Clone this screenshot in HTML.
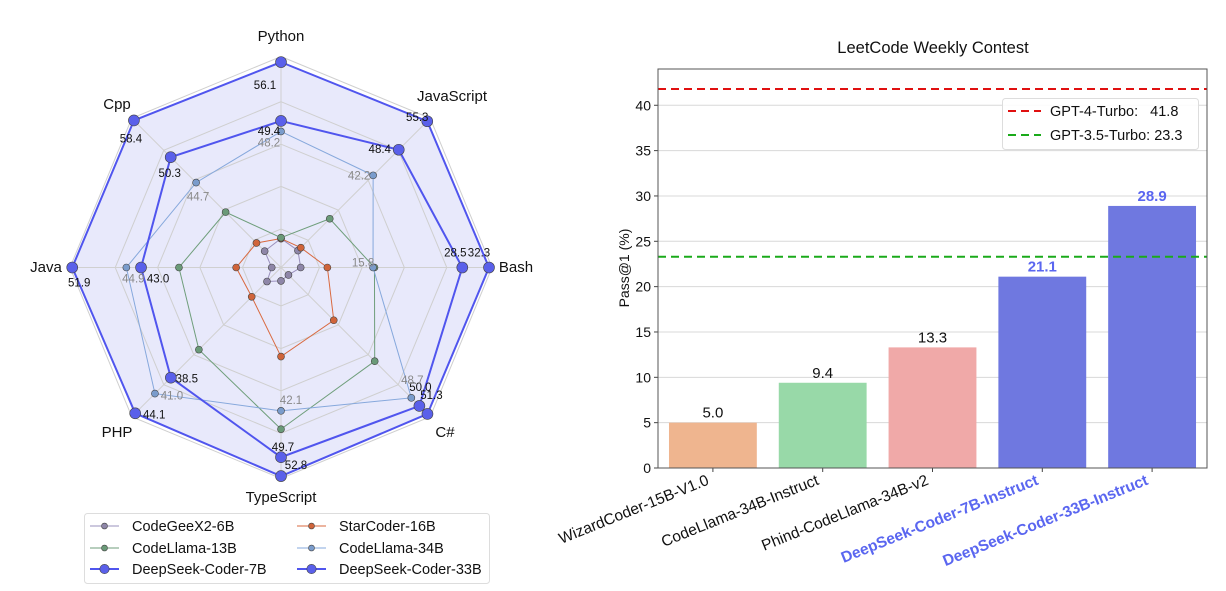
<!DOCTYPE html>
<html><head><meta charset="utf-8"><style>
body{margin:0;background:#fff;width:1226px;height:591px;overflow:hidden;font-family:"Liberation Sans","DejaVu Sans",sans-serif}
svg{position:absolute;left:0;top:0}
</style></head><body>
<svg id="chart" width="1226" height="591" viewBox="0 0 1226 591" font-family="Liberation Sans, DejaVu Sans, sans-serif">
<g id="radar"></g>
<g id="bars"></g>
</svg>
<script>
// ---------- Radar data ----------
const radarAxes = ["Python","JavaScript","Bash","C#","TypeScript","PHP","Java","Cpp"];
const axisLo = [32.7,19.9,2.7,27.7,18.6,21.2,24.9,26.0];
const axisHi = [56.4,55.5,32.3,51.4,52.7,44.3,51.8,58.4];
const seriesNames = ["CodeGeeX2-6B","StarCoder-16B","CodeLlama-13B","CodeLlama-34B","DeepSeek-Coder-7B","DeepSeek-Coder-33B"];
const codegeexVals = [36.0,24.0,5.5,28.9,20.8,23.4,26.1,29.6];
const starcoderVals = [36.0,24.7,9.3,36.2,33.2,25.8,30.7,31.4];
const codellama13Vals = [36.1,31.7,16.0,42.8,45.1,34.1,38.1,38.2];
const codellama34Vals = [48.2,42.2,15.8,48.7,42.1,41.0,44.9,44.7];
const deepseek7Vals = [49.4,48.4,28.5,50.0,49.7,38.5,43.0,50.3];
const deepseek33Vals = [56.1,55.3,32.3,51.3,52.8,44.1,51.9,58.4];

// ---------- Bar data ----------
const barCategories = ["WizardCoder-15B-V1.0","CodeLlama-34B-Instruct","Phind-CodeLlama-34B-v2","DeepSeek-Coder-7B-Instruct","DeepSeek-Coder-33B-Instruct"];
const barValues = [5.0,9.4,13.3,21.1,28.9];
const barTicks = [0,5,10,15,20,25,30,35,40];
const refNames = ["GPT-4-Turbo:   41.8","GPT-3.5-Turbo: 23.3"];
const refValues = [41.8,23.3];

const NS="http://www.w3.org/2000/svg";
function mk(parent,tag,attrs,text){const e=document.createElementNS(NS,tag);for(const k in attrs)e.setAttribute(k,attrs[k]);if(text!==undefined)e.textContent=text;parent.appendChild(e);return e;}

// ---------- Radar ----------
const R=document.getElementById('radar');
const cx=281, cy=267.5, RMAX=208;
const angles=[90,45,0,-45,-90,-135,180,135].map(a=>a*Math.PI/180);
function rScale(i,v){return RMAX*(v-axisLo[i])/(axisHi[i]-axisLo[i]);}
function pt(i,v){const r=rScale(i,v);return [cx+r*Math.cos(angles[i]), cy-r*Math.sin(angles[i])];}
function ringPt(i,r){return [cx+r*Math.cos(angles[i]), cy-r*Math.sin(angles[i])];}

const fillPts=deepseek33Vals.map((v,i)=>pt(i,v).join(',')).join(' ');
let e=mk(R,'polygon',{points:fillPts,fill:'#e8e9fb',stroke:'none'});


[0.185,0.39,0.593,0.797,1.0].forEach(f=>{
  const p=radarAxes.map((a,i)=>ringPt(i,RMAX*f+(f===1?3:0)).join(',')).join(' ');
  const g=mk(R,'polygon',{points:p,fill:'none',stroke:'#cfcfcf','stroke-width':1});
  
  
});
radarAxes.forEach((a,i)=>{
  const [x,y]=ringPt(i,RMAX+3);
  const l=mk(R,'line',{x1:cx,y1:cy,x2:x,y2:y,stroke:'#d0d0d0','stroke-width':1});
  
  
});
const axLabelPos=[[281,41],[452,101],[516,272],[445,437],[281,502],[117,437],[46,272],[117,109]];
radarAxes.forEach((a,i)=>{
  const t=mk(R,'text',{x:axLabelPos[i][0],y:axLabelPos[i][1],'font-size':15,'text-anchor':'middle',fill:'#111'},a);
  
  
});
const seriesData=[codegeexVals,starcoderVals,codellama13Vals,codellama34Vals,deepseek7Vals,deepseek33Vals];
const seriesStyle=[
 {line:'#9a90bd',fill:'#8e86a8',w:1,r:3.5},
 {line:'#d9693f',fill:'#d0643a',w:1,r:3.5},
 {line:'#6f9e7b',fill:'#6a9a78',w:1,r:3.5},
 {line:'#86a8dc',fill:'#7a9ccc',w:1,r:3.5},
 {line:'#5055ee',fill:'#5a60ea',w:2,r:5.5},
 {line:'#5055ee',fill:'#5a60ea',w:2,r:5.5}];
seriesData.forEach((vals,s)=>{
  const st=seriesStyle[s];
  const p=vals.map((v,i)=>pt(i,v).join(',')).join(' ');
  const pl=mk(R,'polygon',{points:p,fill:'none',stroke:st.line,'stroke-width':st.w});
  
  
  vals.forEach((v,i)=>{
    const [x,y]=pt(i,v);
    const c=mk(R,'circle',{cx:x,cy:y,r:st.r,fill:st.fill,stroke:'#444','stroke-width':0.6});
    
    
  });
});
const off33=[[-16,27],[-10,0],[-10,-11],[4,-15],[15,-7],[19,5],[7,19],[-3,22]];
const off7=[[-12,14],[-19,3],[-7,-11],[1,-15],[2,-6],[16,5],[17,15],[-1,20]];
const off34=[[-12,15],[-14,4],[-10,-1],[1,-14],[10,-7],[17,6],[7,15],[2,18]];
[[deepseek33Vals,off33,'#111'],[deepseek7Vals,off7,'#111'],[codellama34Vals,off34,'#888']].forEach(([vals,off,col])=>{
  vals.forEach((v,i)=>{
    const [x,y]=pt(i,v);
    const t=mk(R,'text',{x:x+off[i][0],y:y+off[i][1],'font-size':11.5,'text-anchor':'middle',fill:col},v.toFixed(1));
    
    
  });
});
const lg=mk(R,'g',{});


mk(lg,'rect',{x:84.5,y:513.5,width:405,height:70,rx:3,fill:'#fff',stroke:'#ddd'});
const legPos=[[90,526],[297,526],[90,548],[297,548],[90,569],[297,569]];
seriesNames.forEach((n,s)=>{
  const st=seriesStyle[s];const [x,y]=legPos[s];
  const g=mk(lg,'g',{});
  
  
  mk(g,'line',{x1:x,y1:y,x2:x+29,y2:y,stroke:st.line,'stroke-width':st.w});
  mk(g,'circle',{cx:x+14.5,cy:y,r:st.r*0.85,fill:st.fill,stroke:'#444','stroke-width':0.6});
  mk(g,'text',{x:x+42,y:y+5,'font-size':14.5,fill:'#111'},n);
});

// ---------- Bars ----------
const B=document.getElementById('bars');
const L=658,Rr=1207,T=69,Bt=468,YMAX=44;
const yS=v=>Bt-(Bt-T)*v/YMAX;
const xS=i=>L+(Rr-L)*(i+0.5)/5;
const bw=(Rr-L)/5*0.8;
const tt=mk(B,'text',{x:933,y:53,'font-size':16.5,'text-anchor':'middle',fill:'#111'},'LeetCode Weekly Contest');


barTicks.forEach(t=>{
  const y=yS(t);
  const gl=mk(B,'line',{x1:L,y1:y,x2:Rr,y2:y,stroke:'#d8d8d8','stroke-width':1});
  
  
  mk(B,'line',{x1:L-4,y1:y,x2:L,y2:y,stroke:'#444'});
  const tl=mk(B,'text',{x:L-7,y:y+5,'font-size':14,'text-anchor':'end',fill:'#111'},String(t));
  
  
});
const yl=mk(B,'text',{x:629,y:268,'font-size':14,'text-anchor':'middle',fill:'#111',transform:'rotate(-90 629 268)'},'Pass@1 (%)');


const barColors=['#efb58f','#98d9a8','#f0a9a8','#6f78e0','#6f78e0'];
barValues.forEach((v,i)=>{
  const b=mk(B,'rect',{x:xS(i)-bw/2,y:yS(v),width:bw,height:Bt-yS(v),fill:barColors[i]});
  
  
  const blue=i>=3;
  const t=mk(B,'text',{x:xS(i),y:yS(v)-5,'font-size':15,'text-anchor':'middle',fill:blue?'#5a66f0':'#111','font-weight':blue?'bold':'normal'},v.toFixed(1));
  
  
  mk(B,'line',{x1:xS(i),y1:Bt,x2:xS(i),y2:Bt+4,stroke:'#444'});
  const xl=mk(B,'text',{x:xS(i)-3,y:Bt+16,'font-size':15.5,'text-anchor':'end',fill:blue?'#5a66f0':'#111','font-weight':blue?'bold':'normal',transform:`rotate(-22 ${xS(i)-3} ${Bt+16})`},barCategories[i]);
  
  
});
const refColors=['#e01010','#1aaa1a'];
refValues.forEach((v,i)=>{
  const l=mk(B,'line',{x1:L,y1:yS(v),x2:Rr,y2:yS(v),stroke:refColors[i],'stroke-width':2,'stroke-dasharray':'8,5'});
  
  
});
const fr=mk(B,'rect',{x:L,y:T,width:Rr-L,height:Bt-T,fill:'none',stroke:'#555','stroke-width':1});


const bl=mk(B,'g',{});


mk(bl,'rect',{x:1002.5,y:98.5,width:196,height:51,rx:3,fill:'#fff','fill-opacity':0.9,stroke:'#ddd'});
refNames.forEach((n,i)=>{
  const y=111+i*24;
  const g=mk(bl,'g',{});
  
  
  mk(g,'line',{x1:1008,y1:y,x2:1041,y2:y,stroke:refColors[i],'stroke-width':2,'stroke-dasharray':'8,5'});
  mk(g,'text',{x:1050,y:y+5,'font-size':14.5,fill:'#111',style:'white-space:pre'},n);
});
</script>
</body></html>
